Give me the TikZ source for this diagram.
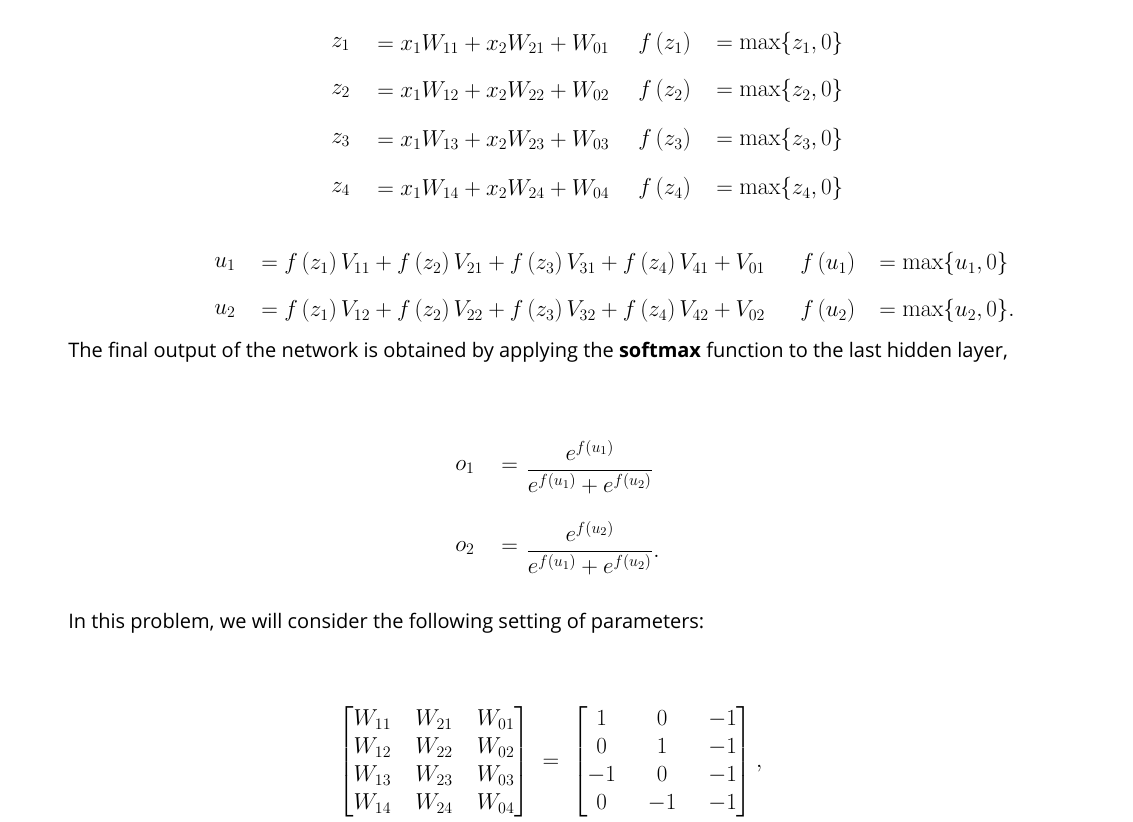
\documentclass[tikz,border=0pt]{standalone}
\usepackage{amsmath}
\usepackage{fontspec}
\newfontfamily\bodyfont{Open Sans}
\begin{document}
\begin{tikzpicture}[x=0.75pt,y=-0.75pt,
  m/.style={inner sep=0pt,font=\fontsize{18}{21}\selectfont},
  txt/.style={inner sep=0pt,anchor=west,font=\bodyfont\fontsize{15}{18}\selectfont}]
\useasboundingbox (0,0) rectangle (1133,822);
\foreach \i/\y in {1/44,2/91,3/140,4/189}{
  \node[m,anchor=west] (za\i) at (331,\y) {$z_\i$};
  \node[m,anchor=west] (zb\i) at (377,\y) {$=x_1W_{1\i}+x_2W_{2\i}+W_{0\i}$};
  \node[m,anchor=west] (zc\i) at (638,\y) {$f\left(z_\i\right)$};
  \node[m,anchor=west] (zd\i) at (716,\y) {$=\max\{z_\i,0\}$};
}
\foreach \i/\y/\p in {1/264/,2/311/.}{
  \node[m,anchor=west] (ua\i) at (214,\y) {$u_\i$};
  \node[m,anchor=west] (ub\i) at (261,\y) {$=f\left(z_1\right)V_{1\i}+f\left(z_2\right)V_{2\i}+f\left(z_3\right)V_{3\i}+f\left(z_4\right)V_{4\i}+V_{0\i}$};
  \node[m,anchor=west] (uc\i) at (800,\y) {$f\left(u_\i\right)$};
  \node[m,anchor=west] (ud\i) at (879,\y) {$=\max\{u_\i,0\}\p$};
}
\node[txt] (t1) at (68,352) {The final output of the network is obtained by applying the \textbf{softmax} function to the last hidden layer,};
\foreach \i/\y/\p in {1/467/,2/548/.}{
  \node[m,anchor=west] (oa\i) at (455,\y) {$o_\i$};
  \node[m,anchor=west] (ob\i) at (501,\y) {$=$};
  \node[m,anchor=west] (oc\i) at (526,\y) {$\dfrac{e^{f(u_\i)}}{e^{f(u_1)}+e^{f(u_2)}}\p$};
}
\node[txt] (t2) at (68,623) {In this problem, we will consider the following setting of parameters:};
\node[m,anchor=west] (mat) at (338,762) {$\setlength{\arraycolsep}{9pt}\begin{bmatrix}W_{11}&W_{21}&W_{01}\\W_{12}&W_{22}&W_{02}\\W_{13}&W_{23}&W_{03}\\W_{14}&W_{24}&W_{04}\end{bmatrix}\setlength{\arraycolsep}{12pt}\;=\;\begin{bmatrix}1&0&-1\\0&1&-1\\-1&0&-1\\0&-1&-1\end{bmatrix},$};
\end{tikzpicture}
\end{document}
